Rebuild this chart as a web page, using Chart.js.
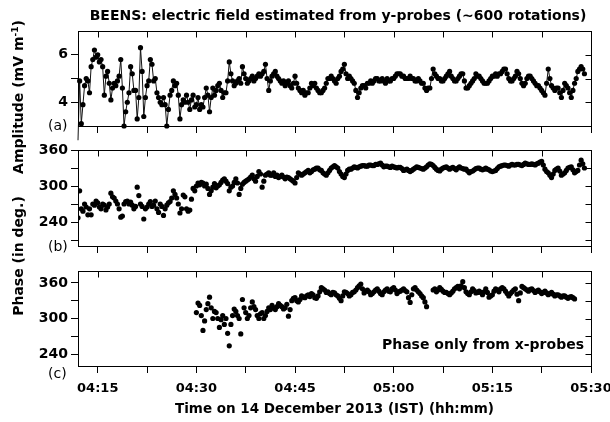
<!DOCTYPE html>
<html>
<head>
<meta charset="utf-8">
<script src="https://cdn.jsdelivr.net/npm/chart.js@4/dist/chart.umd.min.js"></script>
<style>
  body { margin: 0; background: #fff; }
  #wrap { position: relative; width: 610px; height: 422px; background: #fff; overflow: hidden;
          font-family: "DejaVu Sans", sans-serif; color: #000; }
  canvas { position: absolute; left: 0; }
  .txt { position: absolute; white-space: nowrap; line-height: 16px; }
  .bold { font-weight: bold; font-size: 14px; }
  .tag { font-size: 14px; }
  .ylab { position: absolute; white-space: nowrap; font-weight: bold; font-size: 14px; line-height: 16px;
          transform: translate(-50%, -50%) rotate(-90deg); }
  sup { font-size: 9px; vertical-align: 5px; line-height: 0; }
</style>
</head>
<body>
<div id="wrap">
  <canvas id="panelA" width="610" height="146" style="top:0px"></canvas>
  <canvas id="panelB" width="610" height="120" style="top:140px"></canvas>
  <canvas id="panelC" width="610" height="162" style="top:260px"></canvas>

  <div class="txt bold" style="left:338px; top:7px; transform:translateX(-50%)">BEENS: electric field estimated from y-probes (~600 rotations)</div>
  <div class="ylab" style="left:18px; top:97px">Amplitude (mV m<sup>-1</sup>)</div>
  <div class="ylab" style="left:18px; top:256px">Phase (in deg.)</div>
  <div class="txt tag" style="left:48px; top:117px">(a)</div>
  <div class="txt tag" style="left:48px; top:238px">(b)</div>
  <div class="txt tag" style="left:48px; top:365px">(c)</div>
  <div class="txt bold" style="right:26px; top:336px">Phase only from x-probes</div>
</div>

<script>
// time in minutes after 04:00 IST, one row = 2 minutes
const timeAB = [
  12,12.25,12.5,12.75,13,13.25,13.5,13.75,
  14,14.25,14.5,14.75,15,15.25,15.5,15.75,
  16,16.25,16.5,16.75,17,17.25,17.5,17.75,
  18,18.25,18.5,18.75,19,19.25,19.5,19.75,
  20,20.25,20.5,20.75,21,21.25,21.5,21.75,
  22,22.25,22.5,22.75,23,23.25,23.5,23.75,
  24,24.25,24.5,24.75,25,25.25,25.5,25.75,
  26,26.25,26.5,26.75,27,27.25,27.5,27.75,
  28,28.25,28.5,28.75,29,29.25,29.5,29.75,
  30,30.25,30.5,30.75,31,31.25,31.5,31.75,
  32,32.25,32.5,32.75,33,33.25,33.5,33.75,
  34,34.25,34.5,34.75,35,35.25,35.5,35.75,
  36,36.25,36.5,36.75,37,37.25,37.5,37.75,
  38,38.25,38.5,38.75,39,39.25,39.5,39.75,
  40,40.25,40.5,40.75,41,41.25,41.5,41.75,
  42,42.25,42.5,42.75,43,43.25,43.5,43.75,
  44,44.25,44.5,44.75,45,45.25,45.5,45.75,
  46,46.25,46.5,46.75,47,47.25,47.5,47.75,
  48,48.25,48.5,48.75,49,49.25,49.5,49.75,
  50,50.25,50.5,50.75,51,51.25,51.5,51.75,
  52,52.25,52.5,52.75,53,53.25,53.5,53.75,
  54,54.25,54.5,54.75,55,55.25,55.5,55.75,
  56,56.25,56.5,56.75,57,57.25,57.5,57.75,
  58,58.25,58.5,58.75,59,59.25,59.5,59.75,
  60,60.25,60.5,60.75,61,61.25,61.5,61.75,
  62,62.25,62.5,62.75,63,63.25,63.5,63.75,
  64,64.25,64.5,64.75,65,65.25,65.5,65.75,
  66,66.25,66.5,66.75,67,67.25,67.5,67.75,
  68,68.25,68.5,68.75,69,69.25,69.5,69.75,
  70,70.25,70.5,70.75,71,71.25,71.5,71.75,
  72,72.25,72.5,72.75,73,73.25,73.5,73.75,
  74,74.25,74.5,74.75,75,75.25,75.5,75.75,
  76,76.25,76.5,76.75,77,77.25,77.5,77.75,
  78,78.25,78.5,78.75,79,79.25,79.5,79.75,
  80,80.25,80.5,80.75,81,81.25,81.5,81.75,
  82,82.25,82.5,82.75,83,83.25,83.5,83.75,
  84,84.25,84.5,84.75,85,85.25,85.5,85.75,
  86,86.25,86.5,86.75,87,87.25,87.5,87.75,
  88,88.25,88.5,88.75,89];

// (a) amplitude, mV/m
const amplitude = [
  2.4,4.9,3.1,3.9,4.7,5.0,4.9,4.4,
  5.5,5.8,6.2,5.9,6.0,5.7,5.8,5.5,
  4.3,5.1,5.3,4.8,4.1,4.6,4.8,4.7,
  4.9,5.1,5.8,4.6,3.0,3.6,4.0,4.4,
  5.5,5.2,4.5,4.5,3.3,4.2,6.3,5.3,
  3.4,4.2,4.7,4.9,5.8,5.6,4.9,5.0,
  4.4,4.2,4.0,3.9,4.2,3.9,3.0,3.7,
  4.3,4.5,4.9,4.7,4.8,4.3,3.3,3.9,
  4.1,4.0,4.3,4.0,3.7,4.1,4.3,3.8,
  3.9,4.2,3.7,3.9,3.8,4.2,4.6,4.3,
  3.6,4.2,4.6,4.3,4.5,4.7,4.8,4.5,
  4.2,4.4,4.4,4.9,5.7,5.2,4.9,4.7,
  4.8,4.9,5.0,4.8,5.5,5.2,5.0,4.8,
  4.9,5.0,5.1,4.9,5.0,5.1,5.2,5.1,
  5.2,5.3,5.6,5.0,4.5,4.9,5.1,5.2,
  5.3,5.1,5.0,4.9,4.8,4.9,4.7,4.8,
  4.9,4.7,4.6,4.8,5.1,4.8,4.6,4.5,
  4.4,4.5,4.3,4.4,4.4,4.6,4.8,4.7,
  4.8,4.6,4.5,4.4,4.4,4.5,4.6,4.8,
  5.0,5.0,5.1,5.0,4.9,4.8,5.0,5.1,
  5.3,5.4,5.6,5.2,5.0,5.1,5.0,4.9,
  4.8,4.5,4.2,4.4,4.6,4.7,4.7,4.6,
  4.8,4.8,4.9,4.8,4.9,5.0,5.0,4.9,
  4.9,5.0,4.9,4.8,5.0,4.9,4.9,5.0,
  5.0,5.1,5.2,5.2,5.2,5.1,5.1,5.0,
  5.0,5.0,5.1,5.0,5.0,4.9,4.9,5.0,
  4.9,4.8,4.8,4.6,4.5,4.6,4.6,5.0,
  5.4,5.2,5.1,5.0,5.0,4.9,4.9,5.0,
  5.1,5.2,5.3,5.1,5.0,4.9,4.9,5.0,
  5.1,5.2,5.2,4.9,4.6,4.6,4.7,4.8,
  4.9,5.0,5.2,5.1,5.1,5.0,4.9,4.8,
  4.8,4.8,4.9,5.0,5.1,5.1,5.2,5.1,
  5.2,5.2,5.3,5.4,5.4,5.2,5.0,4.9,
  4.9,5.0,5.1,5.3,5.2,5.0,4.8,4.7,
  4.8,5.0,5.1,5.1,5.0,4.9,4.8,4.7,
  4.7,4.6,4.5,4.4,4.3,4.8,5.4,5.0,
  4.7,4.6,4.5,4.6,4.6,4.4,4.2,4.5,
  4.8,4.7,4.6,4.4,4.2,4.5,4.8,5.0,
  5.3,5.4,5.5,5.4,5.2];

// (b) phase from y-probes, degrees
const phaseY = [
  247,292,262,258,270,265,252,262,
  252,270,268,275,272,265,262,270,
  268,260,265,270,288,282,280,275,
  270,262,248,250,270,274,275,270,
  273,268,262,266,298,284,270,266,
  245,262,265,270,274,266,268,275,
  262,256,270,266,251,262,268,272,
  274,280,292,286,280,270,255,262,
  285,282,262,258,260,278,296,292,
  300,305,302,306,305,300,303,296,
  286,292,298,304,297,300,302,306,
  310,312,308,304,292,298,300,306,
  312,305,286,296,303,306,308,310,
  312,315,318,312,308,316,324,320,
  298,308,318,320,322,318,318,322,
  316,318,314,316,318,315,312,315,
  314,312,310,308,305,314,322,320,
  318,320,322,324,326,322,324,327,
  328,330,330,327,326,322,320,318,
  322,326,330,332,334,332,330,324,
  320,316,314,320,326,328,328,330,
  332,331,330,332,333,334,334,333,
  333,335,335,334,334,336,336,337,
  338,335,332,333,333,332,331,333,
  332,331,330,331,331,329,326,327,
  328,326,324,326,328,330,332,331,
  330,329,328,330,332,335,337,336,
  334,331,328,326,325,328,330,331,
  332,330,328,330,331,329,327,330,
  332,330,329,328,328,325,322,324,
  325,327,329,330,330,328,327,328,
  330,328,327,325,324,325,326,329,
  332,333,334,335,335,334,333,335,
  336,335,335,336,336,335,334,336,
  338,337,336,336,337,336,335,337,
  338,340,341,335,328,324,322,318,
  314,320,326,328,330,325,318,320,
  322,326,330,331,332,327,322,324,
  326,335,343,337,330];

// (c) phase only from x-probes (no data 05:05-05:06)
const timeC = [
  30,30.25,30.5,30.75,31,31.25,31.5,31.75,
  32,32.25,32.5,32.75,33,33.25,33.5,33.75,
  34,34.25,34.5,34.75,35,35.25,35.5,35.75,
  36,36.25,36.5,36.75,37,37.25,37.5,37.75,
  38,38.25,38.5,38.75,39,39.25,39.5,39.75,
  40,40.25,40.5,40.75,41,41.25,41.5,41.75,
  42,42.25,42.5,42.75,43,43.25,43.5,43.75,
  44,44.25,44.5,44.75,45,45.25,45.5,45.75,
  46,46.25,46.5,46.75,47,47.25,47.5,47.75,
  48,48.25,48.5,48.75,49,49.25,49.5,49.75,
  50,50.25,50.5,50.75,51,51.25,51.5,51.75,
  52,52.25,52.5,52.75,53,53.25,53.5,53.75,
  54,54.25,54.5,54.75,55,55.25,55.5,55.75,
  56,56.25,56.5,56.75,57,57.25,57.5,57.75,
  58,58.25,58.5,58.75,59,59.25,59.5,59.75,
  60,60.25,60.5,60.75,61,61.25,61.5,61.75,
  62,62.25,62.5,62.75,63,63.25,63.5,63.75,
  64,64.25,64.5,64.75,65,
  66,66.25,66.5,66.75,67,67.25,67.5,67.75,
  68,68.25,68.5,68.75,69,69.25,69.5,69.75,
  70,70.25,70.5,70.75,71,71.25,71.5,71.75,
  72,72.25,72.5,72.75,73,73.25,73.5,73.75,
  74,74.25,74.5,74.75,75,75.25,75.5,75.75,
  76,76.25,76.5,76.75,77,77.25,77.5,77.75,
  78,78.25,78.5,78.75,79,79.25,79.5,79.75,
  80,80.25,80.5,80.75,81,81.25,81.5,81.75,
  82,82.25,82.5,82.75,83,83.25,83.5,83.75,
  84,84.25,84.5,84.75,85,85.25,85.5,85.75,
  86,86.25,86.5,86.75,87,87.25,87.5];
const phaseX = [
  310,326,322,305,280,296,315,325,
  336,318,300,312,310,300,285,298,
  305,290,300,275,254,290,305,316,
  312,305,300,274,332,318,310,300,
  305,318,328,320,315,305,300,308,
  310,300,305,312,318,315,322,318,
  315,320,325,322,320,316,318,324,
  304,315,330,334,335,330,328,332,
  338,336,335,338,340,337,342,340,
  335,334,338,345,352,350,348,344,
  345,342,340,344,343,340,338,334,
  330,338,345,344,342,338,340,344,
  345,348,352,355,358,350,343,346,
  348,345,340,342,345,348,350,346,
  342,340,345,348,350,346,345,350,
  352,348,342,345,346,348,350,347,
  345,335,327,340,350,352,348,345,
  342,338,335,328,320,
  348,350,345,348,352,349,346,344,
  344,342,340,343,346,350,352,354,
  350,355,362,352,345,342,340,345,
  350,347,343,344,346,344,340,345,
  350,344,336,338,340,346,350,348,
  345,350,352,350,346,342,338,342,
  345,348,350,341,330,343,354,352,
  350,348,346,349,350,347,344,346,
  348,345,342,344,346,343,340,342,
  344,341,338,340,340,338,336,338,
  338,336,334,336,337,335,333];

// axis ticks
const timeTicks  = [15,22.5,30,37.5,45,52.5,60,67.5,75,82.5,90];
const timeLabels = ['04:15','','04:30','','04:45','','05:00','','05:15','','05:30'];
const ampTicks  = [4,5,6];
const ampLabels = ['4','','6'];
const phaseTicksB  = [210,240,270,300,330,360];
const phaseLabelsB = ['','240','','300','','360'];
const phaseTicksC  = [240,270,300,330,360];
const phaseLabelsC = ['240','','300','','360'];

Chart.defaults.font.family = '"DejaVu Sans", sans-serif';
Chart.defaults.color = '#000';

function pts(xs, ys) {
  return xs.map((x, i) => ({ x: x, y: ys[i] }));
}

const px = v => Math.round(v) + 0.5;

// full frame + inward ticks on top and right side
const framePlugin = {
  id: 'frame',
  afterDraw(chart) {
    const ctx = chart.ctx, a = chart.chartArea;
    const xs = chart.scales.x, ys = chart.scales.y;
    ctx.save();
    ctx.strokeStyle = '#000';
    ctx.lineWidth = 1;
    ctx.strokeRect(px(a.left), px(a.top), Math.round(a.right) - Math.round(a.left), Math.round(a.bottom) - Math.round(a.top));
    ctx.beginPath();
    xs.ticks.forEach(t => {
      const x = px(xs.getPixelForValue(t.value));
      ctx.moveTo(x, px(a.top));
      ctx.lineTo(x, px(a.top) + 6);
    });
    ys.ticks.forEach(t => {
      const y = px(ys.getPixelForValue(t.value));
      ctx.moveTo(px(a.right), y);
      ctx.lineTo(px(a.right) - 6, y);
    });
    ctx.stroke();
    ctx.restore();
  }
};

function makePanel(id, dataset, yMin, yMax, yTicks, yLabels, padTop, xHeight, isBottom) {
  return new Chart(document.getElementById(id), {
    type: 'scatter',
    data: { datasets: [dataset] },
    options: {
      responsive: false,
      animation: false,
      devicePixelRatio: 1,
      layout: { padding: { left: 0, right: 19, top: padTop, bottom: 0 } },
      plugins: { legend: { display: false }, tooltip: { enabled: false } },
      scales: {
        x: {
          type: 'linear', min: 12, max: 90,
          afterBuildTicks: s => { s.ticks = timeTicks.map(v => ({ value: v })); },
          afterFit: s => { s.height = xHeight; s.paddingLeft = 0; s.paddingRight = 0; },
          grid: { drawOnChartArea: false, drawTicks: true, tickLength: 7, color: '#000' },
          border: { display: true, color: '#000', width: 1 },
          ticks: {
            display: isBottom, autoSkip: false, maxRotation: 0, padding: 8,
            font: { size: 13, weight: 'bold' },
            callback: (v, i) => timeLabels[i]
          },
          title: {
            display: isBottom, text: 'Time on 14 December 2013 (IST) (hh:mm)',
            font: { size: 13.5, weight: 'bold' }, padding: { top: 2, bottom: 4 }
          }
        },
        y: {
          min: yMin, max: yMax,
          afterBuildTicks: s => { s.ticks = yTicks.map(v => ({ value: v })); },
          afterFit: s => { s.width = 78; s.paddingTop = 0; s.paddingBottom = 0; },
          grid: { drawOnChartArea: false, drawTicks: true, tickLength: 7, color: '#000' },
          border: { display: true, color: '#000', width: 1 },
          ticks: {
            autoSkip: false, padding: 3,
            font: { size: 14, weight: 'bold' },
            callback: (v, i) => yLabels[i]
          }
        }
      }
    },
    plugins: [framePlugin]
  });
}

const dotStyle = { pointRadius: 2.6, pointBackgroundColor: '#000', pointBorderWidth: 0, pointHoverRadius: 2.6 };

makePanel('panelA', Object.assign({
  data: pts(timeAB, amplitude), showLine: true, borderColor: '#111', borderWidth: 1, clip: false
}, dotStyle), 3, 7, ampTicks, ampLabels, 31, 20, false);

makePanel('panelB', Object.assign({
  data: pts(timeAB, phaseY), showLine: false
}, dotStyle), 200, 360, phaseTicksB, phaseLabelsB, 10, 14, false);

makePanel('panelC', Object.assign({
  data: pts(timeC, phaseX), showLine: false
}, dotStyle), 220, 380, phaseTicksC, phaseLabelsC, 11, 56, true);
</script>
</body>
</html>
